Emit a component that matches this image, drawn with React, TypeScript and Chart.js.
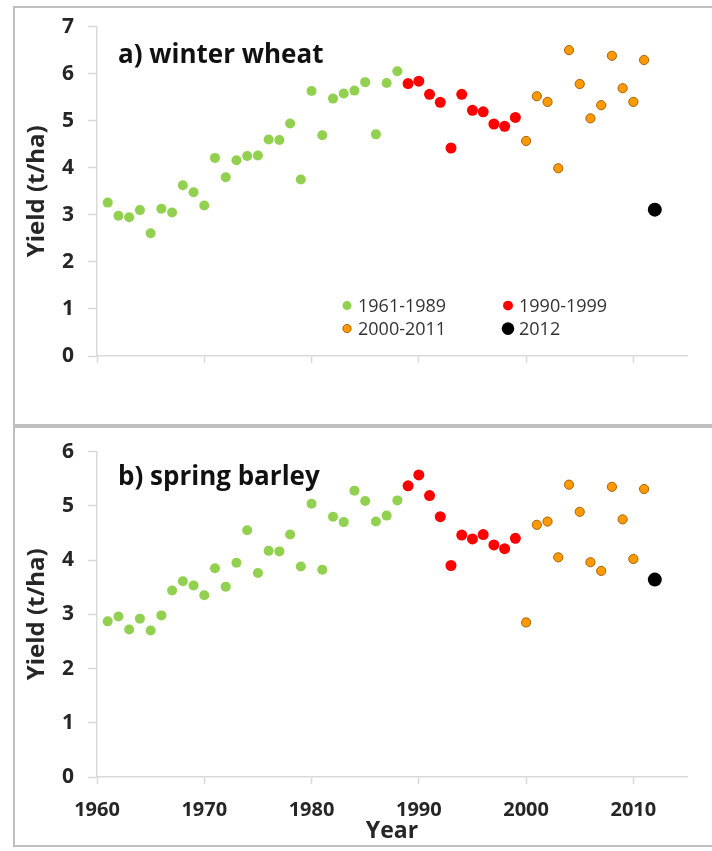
import React, { useEffect, useRef } from 'react';
import { Chart, registerables } from 'chart.js';

Chart.register(...registerables);

// ---------- data ----------
const yearsEarly = [1961, 1962, 1963, 1964, 1965, 1966, 1967, 1968, 1969, 1970, 1971, 1972, 1973, 1974, 1975, 1976, 1977, 1978, 1979, 1980, 1981, 1982, 1983, 1984, 1985, 1986, 1987, 1988];
const yearsNineties = [1989, 1990, 1991, 1992, 1993, 1994, 1995, 1996, 1997, 1998, 1999];
const yearsRecent = [2000, 2001, 2002, 2003, 2004, 2005, 2006, 2007, 2008, 2009, 2010, 2011];
const yearsLatest = [2012];

const wheatEarly = [3.26, 2.98, 2.95, 3.10, 2.61, 3.13, 3.05, 3.63, 3.48, 3.20, 4.21, 3.80, 4.16, 4.25, 4.26, 4.60, 4.59, 4.94, 3.75, 5.63, 4.69, 5.47, 5.58, 5.64, 5.82, 4.71, 5.80, 6.05];
const wheatNineties = [5.79, 5.84, 5.56, 5.39, 4.42, 5.56, 5.22, 5.19, 4.93, 4.88, 5.07];
const wheatRecent = [4.57, 5.52, 5.40, 3.99, 6.50, 5.78, 5.05, 5.33, 6.38, 5.69, 5.40, 6.29];
const wheatLatest = [3.11];

const barleyEarly = [2.87, 2.96, 2.72, 2.92, 2.70, 2.98, 3.44, 3.61, 3.53, 3.35, 3.85, 3.51, 3.95, 4.55, 3.76, 4.17, 4.16, 4.47, 3.88, 5.04, 3.82, 4.80, 4.70, 5.28, 5.09, 4.71, 4.82, 5.10];
const barleyNineties = [5.37, 5.57, 5.19, 4.80, 3.90, 4.46, 4.39, 4.47, 4.28, 4.21, 4.40];
const barleyRecent = [2.85, 4.65, 4.71, 4.05, 5.39, 4.89, 3.96, 3.80, 5.35, 4.75, 4.02, 5.31];
const barleyLatest = [3.64];

const legendLabels = ['1961-1989', '1990-1999', '2000-2011', '2012'];
const xTickValues = [1960, 1970, 1980, 1990, 2000, 2010];

// ---------- styles ----------
const FONT = "'Open Sans', 'Liberation Sans', sans-serif";
const TEXT = '#262626';
const AXIS = '#D9D9D9';

const styles = [
  { bg: '#92D050', border: '#92D050', bw: 0, r: 5 },
  { bg: '#FF0000', border: '#FF0000', bw: 0, r: 5.5 },
  { bg: '#FF9900', border: '#A86300', bw: 1, r: 4.6 },
  { bg: '#000000', border: '#000000', bw: 0, r: 7 },
];

function toPoints(xs: number[], ys: number[]) {
  return xs.map((x, i) => ({ x, y: ys[i] }));
}

const panelLabelPlugin = {
  id: 'panelLabel',
  afterDraw(chart: any, _args: any, opts: any) {
    const { ctx, chartArea } = chart;
    ctx.save();
    ctx.font = `bold 26px ${FONT}`;
    ctx.fillStyle = '#111';
    ctx.textAlign = 'left';
    ctx.textBaseline = 'middle';
    ctx.fillText(opts.text, chartArea.left + opts.dx, chartArea.top + opts.dy);
    ctx.restore();
  },
};

const inlineLegendPlugin = {
  id: 'inlineLegend',
  afterDraw(chart: any, _args: any, opts: any) {
    if (!opts.show) return;
    const { ctx, chartArea } = chart;
    ctx.save();
    ctx.font = `18px ${FONT}`;
    ctx.textBaseline = 'middle';
    ctx.textAlign = 'left';
    chart.data.datasets.forEach((ds: any, i: number) => {
      const col = i % 2;
      const row = Math.floor(i / 2);
      const cx = chartArea.left + (col === 0 ? 250 : 411);
      const cy = chartArea.top + (row === 0 ? 279 : 302);
      ctx.beginPath();
      ctx.arc(cx, cy, ds.pointRadius * 0.9, 0, Math.PI * 2);
      ctx.fillStyle = ds.pointBackgroundColor;
      ctx.fill();
      if (ds.pointBorderWidth > 0) {
        ctx.lineWidth = ds.pointBorderWidth;
        ctx.strokeStyle = ds.pointBorderColor;
        ctx.stroke();
      }
      ctx.fillStyle = '#333';
      ctx.fillText(ds.label, cx + 11, cy + 1);
    });
    ctx.restore();
  },
};

type PanelProps = {
  top: number;
  height: number;
  areaTop: number;
  xHeight: number;
  yMax: number;
  title: string;
  titleDy: number;
  series: number[][];
  showXLabels: boolean;
  showLegend: boolean;
};

function ScatterPanel(p: PanelProps) {
  const ref = useRef<HTMLCanvasElement>(null);
  useEffect(() => {
    if (!ref.current) return;
    const yearSets = [yearsEarly, yearsNineties, yearsRecent, yearsLatest];
    const datasets = p.series.map((vals, i) => ({
      label: legendLabels[i],
      data: toPoints(yearSets[i], vals),
      pointRadius: styles[i].r,
      pointBackgroundColor: styles[i].bg,
      pointBorderColor: styles[i].border,
      pointBorderWidth: styles[i].bw,
      showLine: false,
    }));
    const chart = new Chart(ref.current, {
      type: 'scatter',
      data: { datasets },
      plugins: [panelLabelPlugin, inlineLegendPlugin],
      options: {
        animation: false,
        responsive: false,
        events: [],
        layout: { autoPadding: false, padding: { left: 0, right: 25, top: p.areaTop, bottom: 0 } },
        plugins: {
          legend: { display: false },
          tooltip: { enabled: false },
          panelLabel: { text: p.title, dx: 21, dy: p.titleDy },
          inlineLegend: { show: p.showLegend },
        } as any,
        scales: {
          x: {
            type: 'linear',
            min: 1960,
            max: 2015,
            afterBuildTicks: (s: any) => {
              s.ticks = xTickValues.map((v) => ({ value: v }));
            },
            afterFit: (s: any) => {
              s.height = p.xHeight;
            },
            grid: { drawOnChartArea: false, drawTicks: true, tickLength: 7, tickColor: AXIS, tickWidth: 1.5 },
            border: { color: AXIS, width: 1.5 },
            ticks: {
              display: p.showXLabels,
              padding: 14,
              autoSkip: false,
              maxRotation: 0,
              color: TEXT,
              font: { family: FONT, size: 20, weight: 'bold' },
              callback: (v: any) => String(v),
            },
            title: {
              display: p.showXLabels,
              text: 'Year',
              color: TEXT,
              font: { family: FONT, size: 23, weight: 'bold' },
              padding: { top: 0, bottom: 6 },
            },
          },
          y: {
            min: 0,
            max: p.yMax,
            afterFit: (s: any) => {
              s.width = 97;
            },
            grid: { drawOnChartArea: false, drawTicks: true, tickLength: 9, tickColor: AXIS, tickWidth: 1.5 },
            border: { color: AXIS, width: 1.5 },
            ticks: {
              stepSize: 1,
              padding: 14,
              color: TEXT,
              font: { family: FONT, size: 21, weight: 'bold' },
              callback: (v: any) => String(v),
            },
            title: {
              display: true,
              text: 'Yield (t/ha)',
              color: TEXT,
              font: { family: FONT, size: 24, weight: 'bold' },
              padding: { top: 23, bottom: 0 },
            },
          },
        },
      } as any,
    });
    return () => chart.destroy();
  }, []);
  return (
    <canvas
      ref={ref}
      width={712}
      height={p.height}
      style={{ position: 'absolute', left: 0, top: p.top, width: 712, height: p.height }}
    />
  );
}

export default function App() {
  const border = '2px solid #BFBFBF';
  return (
    <div style={{ position: 'absolute', left: 0, top: 0, width: 712, height: 851, overflow: 'hidden', background: '#fff' }}>
      <div style={{ position: 'absolute', left: 13, top: 6, width: 720, height: 420, border, boxSizing: 'border-box' }} />
      <div style={{ position: 'absolute', left: 13, top: 426, width: 720, height: 421, border, boxSizing: 'border-box' }} />
      <ScatterPanel
        top={0}
        height={425}
        areaTop={23}
        xHeight={69}
        yMax={7}
        title="a) winter wheat"
        titleDy={29}
        series={[wheatEarly, wheatNineties, wheatRecent, wheatLatest]}
        showXLabels={false}
        showLegend={true}
      />
      <ScatterPanel
        top={425}
        height={426}
        areaTop={19}
        xHeight={74}
        yMax={6}
        title="b) spring barley"
        titleDy={26}
        series={[barleyEarly, barleyNineties, barleyRecent, barleyLatest]}
        showXLabels={true}
        showLegend={false}
      />
    </div>
  );
}
